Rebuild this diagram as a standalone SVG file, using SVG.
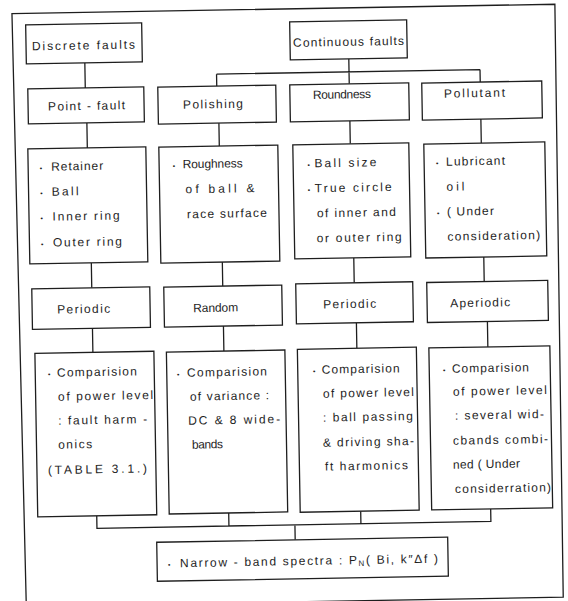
<svg xmlns="http://www.w3.org/2000/svg" width="568" height="601" viewBox="0 0 568 601">
<style>
.bx{fill:#fff;stroke:#1e1e1e;stroke-width:1.3}
.fr{fill:none;stroke:#1e1e1e;stroke-width:1.3}
.cn{fill:none;stroke:#1e1e1e;stroke-width:1.3}
text{font-family:"Liberation Sans",Arial,sans-serif;font-size:12px;fill:#1e1e1e}
.d{font-size:7px}
.s{font-size:8px}
</style>
<rect width="568" height="601" fill="#fff"/>
<g transform="rotate(-1 284 300)">
<path class="fr" d="M17,9 L560,9 L558,602 L21,602 Z"/>
<g id="connectors">
<path class="cn" d="M89,59.5 V84.5 M353,60 V85 M220.5,73 H484 M220.5,73 V85 M484,73 V85.5"/>
<path class="cn" d="M90,119.5 V144.5 M222,122 V145 M353,122 V145 M484,122.5 V146.5"/>
<path class="cn" d="M92,259.5 V284.5 M223,261 V285 M354.5,259 V284 M484.5,260.5 V285"/>
<path class="cn" d="M92,325 V349 M223,325 V350 M356,324 V349.5 M487,325 V350.5"/>
<path class="cn" d="M93,512.5 V525 H487 V512.5 M225,512 V525 M357,512.5 V525 M291,525 V540"/>
</g>
<g id="discrete"><rect class="bx" x="30.5" y="20.5" width="116" height="39"/><text x="36.4" y="46" textLength="103" lengthAdjust="spacing">Discrete faults</text></g>
<g id="continuous"><rect class="bx" x="294.5" y="22" width="117" height="38"/><text x="297.5" y="47" textLength="111" lengthAdjust="spacing">Continuous faults</text></g>
<g id="pointfault"><rect class="bx" x="31.5" y="84.5" width="116" height="35"/><text x="51.4" y="106.5" textLength="77" lengthAdjust="spacing">Point - fault</text></g>
<g id="polishing"><rect class="bx" x="161.5" y="85" width="118" height="37"/><text x="186.4" y="107" textLength="60" lengthAdjust="spacing">Polishing</text></g>
<g id="roundness"><rect class="bx" x="293.5" y="85" width="119" height="37"/><text x="316.4" y="99.5" textLength="58" lengthAdjust="spacing">Roundness</text></g>
<g id="pollutant"><rect class="bx" x="425.5" y="85.5" width="120" height="37"/><text x="447.5" y="100.5" textLength="61" lengthAdjust="spacing">Pollutant</text></g>
<g id="discrete-items"><rect class="bx" x="30.5" y="144.5" width="118" height="115"/>
<text y="166.6"><tspan class="d" x="42">•</tspan><tspan x="53.5" textLength="52" lengthAdjust="spacing">Retainer</tspan></text>
<text y="191.6"><tspan class="d" x="42">•</tspan><tspan x="53.5" textLength="27" lengthAdjust="spacing">Ball</tspan></text>
<text y="216.6"><tspan class="d" x="42">•</tspan><tspan x="54" textLength="67" lengthAdjust="spacing">Inner ring</tspan></text>
<text y="242.6"><tspan class="d" x="42">•</tspan><tspan x="54" textLength="69" lengthAdjust="spacing">Outer ring</tspan></text></g>
<g id="polishing-items"><rect class="bx" x="161.5" y="145" width="119" height="116"/>
<text y="166.6"><tspan class="d" x="175">•</tspan><tspan x="185" textLength="60" lengthAdjust="spacing">Roughness</tspan></text>
<text x="187.4" y="191.6" textLength="69" lengthAdjust="spacing">of ball &amp;</text>
<text x="188.4" y="216.6" textLength="80" lengthAdjust="spacing">race surface</text></g>
<g id="roundness-items"><rect class="bx" x="295.5" y="145" width="116" height="114"/>
<text y="167.9"><tspan class="d" x="309.7">•</tspan><tspan x="316.7" textLength="62" lengthAdjust="spacing">Ball size</tspan></text>
<text y="192.9"><tspan class="d" x="309.7">•</tspan><tspan x="316.7" textLength="77" lengthAdjust="spacing">True circle</tspan></text>
<text x="318.4" y="217.9" textLength="79" lengthAdjust="spacing">of inner and</text>
<text x="317.7" y="242.9" textLength="85" lengthAdjust="spacing">or outer ring</text></g>
<g id="pollutant-items"><rect class="bx" x="426.5" y="146.5" width="121" height="114"/>
<text y="168.5"><tspan class="d" x="438.4">•</tspan><tspan x="448.4" textLength="59" lengthAdjust="spacing">Lubricant</tspan></text>
<text x="448.4" y="193.5" textLength="18" lengthAdjust="spacing">oil</text>
<text y="218.5"><tspan class="d" x="438.4">•</tspan><tspan x="448.4" textLength="47" lengthAdjust="spacing">( Under</tspan></text>
<text x="448.4" y="243.5" textLength="93" lengthAdjust="spacing">consideration)</text></g>
<g id="periodic1"><rect class="bx" x="32" y="284.5" width="118" height="40.5"/><text x="57" y="309.6" textLength="53" lengthAdjust="spacing">Periodic</text></g>
<g id="random"><rect class="bx" x="164" y="285" width="118" height="40"/><text x="193" y="310.6" textLength="45" lengthAdjust="spacing">Random</text></g>
<g id="periodic2"><rect class="bx" x="296" y="284" width="117" height="40"/><text x="323" y="309.2" textLength="53" lengthAdjust="spacing">Periodic</text></g>
<g id="aperiodic"><rect class="bx" x="427" y="285" width="121" height="40"/><text x="450" y="310.2" textLength="60" lengthAdjust="spacing">Aperiodic</text></g>
<g id="comp1"><rect class="bx" x="34" y="349" width="119" height="163.5"/>
<text y="372.7"><tspan class="d" x="46.7">•</tspan><tspan x="55.7" textLength="80" lengthAdjust="spacing">Comparision</tspan></text>
<text x="56.4" y="396.7" textLength="95" lengthAdjust="spacing">of power level</text>
<text x="56" y="420.7" textLength="89" lengthAdjust="spacing">: fault harm -</text>
<text x="55.6" y="444.7" textLength="34" lengthAdjust="spacing">onics</text>
<text x="45" y="470" textLength="99" lengthAdjust="spacing">(TABLE 3.1.)</text></g>
<g id="comp2"><rect class="bx" x="165.5" y="350" width="118.5" height="162"/>
<text y="375"><tspan class="d" x="175.7">•</tspan><tspan x="185.7" textLength="80" lengthAdjust="spacing">Comparision</tspan></text>
<text x="188.3" y="399" textLength="79" lengthAdjust="spacing">of variance :</text>
<text x="186" y="423" textLength="92" lengthAdjust="spacing">DC &amp; 8 wide-</text>
<text x="189.4" y="447" textLength="31" lengthAdjust="spacing">bands</text></g>
<g id="comp3"><rect class="bx" x="296.5" y="349.5" width="119" height="163"/>
<text y="374.3"><tspan class="d" x="311.7">•</tspan><tspan x="320.4" textLength="78" lengthAdjust="spacing">Comparision</tspan></text>
<text x="321.3" y="398.3" textLength="91" lengthAdjust="spacing">of power level</text>
<text x="320.9" y="422.3" textLength="90" lengthAdjust="spacing">: ball passing</text>
<text x="320.5" y="447.3" textLength="91" lengthAdjust="spacing">&amp; driving sha-</text>
<text x="322" y="471.3" textLength="83" lengthAdjust="spacing">ft harmonics</text></g>
<g id="comp4"><rect class="bx" x="428" y="350.5" width="121" height="162"/>
<text y="375.6"><tspan class="d" x="441.7">•</tspan><tspan x="450.7" textLength="77" lengthAdjust="spacing">Comparision</tspan></text>
<text x="451.3" y="398.6" textLength="94" lengthAdjust="spacing">of power level</text>
<text x="452.9" y="422.6" textLength="89" lengthAdjust="spacing">: several wid-</text>
<text x="450.5" y="447.6" textLength="95" lengthAdjust="spacing">cbands combi-</text>
<text x="450" y="471.6" textLength="67" lengthAdjust="spacing">ned ( Under</text>
<text x="451.7" y="496" textLength="96" lengthAdjust="spacing">considerration)</text></g>
<g id="spectra"><rect class="bx" x="152.5" y="540" width="291" height="39"/>
<text class="d" x="163.4" y="565.3">•</text>
<text x="175.4" y="565.3" textLength="258" lengthAdjust="spacing">Narrow - band spectra : P<tspan class="s" dy="2">N</tspan><tspan dy="-2">( Bi, k″Δf )</tspan></text></g>
</g>
</svg>
